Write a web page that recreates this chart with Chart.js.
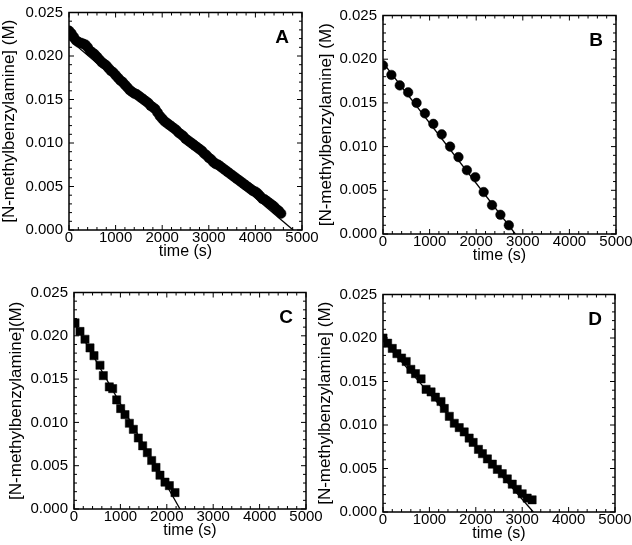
<!DOCTYPE html>
<html>
<head>
<meta charset="utf-8">
<script src="https://cdn.jsdelivr.net/npm/chart.js@4"></script>
<style>
  body { margin: 0; background: #fff; }
  #page { position: relative; width: 632px; height: 545px; overflow: hidden; background: #fff; }
  canvas { position: absolute; }
</style>
</head>
<body>
<div id="page">
  <canvas id="chartA"></canvas>
  <canvas id="chartB"></canvas>
  <canvas id="chartC"></canvas>
  <canvas id="chartD"></canvas>
</div>
<script>
/* ---------- data ---------- */
const xTicks = [0, 1000, 2000, 3000, 4000, 5000];
const yTicks = [0.000, 0.005, 0.010, 0.015, 0.020, 0.025];

const timeA = [0, 50, 100, 150, 200, 250, 300, 350, 400, 450, 500, 550, 600, 650, 700, 750, 800, 850, 900, 950,
  1000, 1050, 1100, 1150, 1200, 1250, 1300, 1350, 1400, 1450, 1500, 1550, 1600, 1650, 1700, 1750, 1800, 1850, 1900, 1950,
  2000, 2050, 2100, 2150, 2200, 2250, 2300, 2350, 2400, 2450, 2500, 2550, 2600, 2650, 2700, 2750, 2800, 2850, 2900, 2950,
  3000, 3050, 3100, 3150, 3200, 3250, 3300, 3350, 3400, 3450, 3500, 3550, 3600, 3650, 3700, 3750, 3800, 3850, 3900, 3950,
  4000, 4050, 4100, 4150, 4200, 4250, 4300, 4350, 4400, 4450, 4500, 4550];
const concA = [0.0229, 0.0226, 0.0222, 0.0218, 0.0216, 0.0215, 0.0214, 0.0213, 0.0210, 0.0206, 0.0204, 0.0202, 0.0199, 0.0196, 0.0193, 0.0191, 0.0189, 0.0186, 0.0183, 0.0181,
  0.0178, 0.0175, 0.0172, 0.0170, 0.0167, 0.0164, 0.0161, 0.0159, 0.0157, 0.0156, 0.0154, 0.0152, 0.0150, 0.0148, 0.0146, 0.0143, 0.0141, 0.0139, 0.0135, 0.0131,
  0.0128, 0.0125, 0.0123, 0.0121, 0.0119, 0.0117, 0.0115, 0.0112, 0.0110, 0.0108, 0.0105, 0.0103, 0.0101, 0.0099, 0.0097, 0.0095, 0.0093, 0.0091, 0.0088, 0.0086,
  0.0083, 0.0081, 0.0078, 0.0076, 0.0075, 0.0073, 0.0071, 0.0069, 0.0067, 0.0065, 0.0063, 0.0061, 0.0059, 0.0057, 0.0055, 0.0053, 0.0051, 0.0049, 0.0047, 0.0045,
  0.0044, 0.0042, 0.0039, 0.0036, 0.0035, 0.0033, 0.0031, 0.0029, 0.0027, 0.0024, 0.0022, 0.0019];
const fitTimeA = [0, 4810];
const fitConcA = [0.0219, 0.0];

const timeB = [0, 180, 360, 540, 720, 900, 1080, 1260, 1440, 1620, 1800, 1980, 2160, 2340, 2520, 2700];
const concB = [0.0193, 0.0182, 0.0170, 0.0162, 0.0150, 0.0138, 0.0126, 0.0114, 0.0100, 0.0088, 0.0073, 0.0065, 0.0048, 0.0033, 0.0022, 0.0010];
const fitTimeB = [0, 2840];
const fitConcB = [0.0196, 0.0];

const timeC = [22, 129, 237, 345, 431, 560, 632, 761, 833, 920, 1006, 1099, 1193, 1279, 1386, 1480, 1580, 1674, 1767, 1853, 1961, 2055, 2177];
const concC = [0.0215, 0.0205, 0.0196, 0.0186, 0.0177, 0.0166, 0.0154, 0.0141, 0.0139, 0.0126, 0.0116, 0.0109, 0.0099, 0.0092, 0.0082, 0.0073, 0.0065, 0.0056, 0.0048, 0.0039, 0.0031, 0.0027, 0.0019];
const fitTimeC = [0, 2285];
const fitConcC = [0.0216, 0.0];

const timeD = [0, 100, 200, 300, 400, 500, 600, 700, 821, 929, 1036, 1129, 1250, 1321, 1429, 1536, 1643, 1750, 1857, 1943,
  2057, 2143, 2250, 2357, 2464, 2571, 2679, 2786, 2893, 3000, 3107, 3214];
const concD = [0.0200, 0.0194, 0.0188, 0.0182, 0.0177, 0.0173, 0.0164, 0.0159, 0.0153, 0.0141, 0.0138, 0.0132, 0.0127, 0.0119, 0.0110, 0.0102, 0.0097, 0.0092, 0.0085, 0.0080,
  0.0072, 0.0067, 0.0061, 0.0055, 0.0049, 0.0044, 0.0038, 0.0032, 0.0026, 0.0021, 0.0016, 0.0014];
const fitTimeD = [0, 3240];
const fitConcD = [0.0197, 0.0];

/* ---------- layout of the four panels (plot-area edges in page pixels) ---------- */
const panels = [
  { canvas: "chartA", letter: "A", L: 69,  R: 302, T: 9,   B: 230, titleOff: 60, yTitle: "[N-methylbenzylamine] (M)",
    t: timeA, c: concA, ft: fitTimeA, fc: fitConcA, style: "circle", r: 5 },
  { canvas: "chartB", letter: "B", L: 383, R: 616, T: 12,  B: 234, titleOff: 57, yTitle: "[N-methylbenzylamine] (M)",
    t: timeB, c: concB, ft: fitTimeB, fc: fitConcB, style: "circle", r: 4.8 },
  { canvas: "chartC", letter: "C", L: 74,  R: 306, T: 289, B: 509, titleOff: 58, yTitle: "[N-methylbenzylamine](M)",
    t: timeC, c: concC, ft: fitTimeC, fc: fitConcC, style: "rect", r: 5.8 },
  { canvas: "chartD", letter: "D", L: 383, R: 615, T: 291, B: 512, titleOff: 58, yTitle: "[N-methylbenzylamine] (M)",
    t: timeD, c: concD, ft: fitTimeD, fc: fitConcD, style: "rect", r: 5.8 }
];

const Y_AXIS_W = 70;
const X_AXIS_H = 44;
const PAD_TOP = 10;
const PAD_RIGHT = 40;

Chart.defaults.font.family = '"Liberation Sans", Arial, Helvetica, sans-serif';
Chart.defaults.font.size = 15;
Chart.defaults.color = "#000";

/* frame + inward ticks on all four sides + panel letter */
const frameTicks = {
    id: "frameTicks",
    afterDraw(chart, args, opts) {
        const { ctx, chartArea: a, scales: { x, y } } = chart;
        ctx.save();
        ctx.strokeStyle = "#000";
        ctx.lineWidth = 1;
        const seg = (x1, y1, x2, y2) => {
            ctx.beginPath();
            ctx.moveTo(x1, y1);
            ctx.lineTo(x2, y2);
            ctx.stroke();
        };
        for (let i = 0; i <= 25; i++) {
            const px = x.getPixelForValue(i * 200);
            const len = i % 5 === 0 ? 5 : 3;
            seg(px, a.bottom, px, a.bottom - len);
            seg(px, a.top, px, a.top + len);
        }
        for (let i = 0; i <= 25; i++) {
            const py = y.getPixelForValue(i * 0.001);
            const len = i % 5 === 0 ? 5 : 3;
            seg(a.left, py, a.left + len, py);
            seg(a.right, py, a.right - len, py);
        }
        ctx.lineWidth = 1.5;
        ctx.strokeRect(a.left, a.top, a.right - a.left, a.bottom - a.top);

        ctx.fillStyle = "#000";
        ctx.font = 'bold 19px "Liberation Sans", Arial, sans-serif';
        ctx.textAlign = "center";
        ctx.textBaseline = "middle";
        ctx.fillText(opts.letter, a.right - 20, a.top + 25);
        ctx.restore();
    }
};

panels.forEach(p => {
    const cv = document.getElementById(p.canvas);
    const left = p.L - Y_AXIS_W;
    const top = p.T - PAD_TOP;
    cv.width = p.R - left + PAD_RIGHT;
    cv.height = p.B - top + X_AXIS_H;
    cv.style.left = left + "px";
    cv.style.top = top + "px";

    const points = p.t.map((v, i) => ({ x: v, y: p.c[i] }));
    const fit = p.ft.map((v, i) => ({ x: v, y: p.fc[i] }));

    new Chart(cv, {
        type: "scatter",
        data: {
            datasets: [
                {
                    data: fit,
                    showLine: true,
                    borderColor: "#000",
                    borderWidth: 1.3,
                    pointRadius: 0
                },
                {
                    data: points,
                    pointStyle: p.style,
                    pointRadius: p.r,
                    pointBackgroundColor: "#000",
                    pointBorderColor: "#000",
                    pointBorderWidth: 0.5
                }
            ]
        },
        options: {
            responsive: false,
            animation: false,
            layout: { padding: { top: PAD_TOP, right: PAD_RIGHT, left: 0, bottom: 0 } },
            plugins: {
                legend: { display: false },
                tooltip: { enabled: false },
                frameTicks: { letter: p.letter }
            },
            scales: {
                x: {
                    type: "linear",
                    min: xTicks[0],
                    max: xTicks[xTicks.length - 1],
                    afterBuildTicks: s => { s.ticks = xTicks.map(v => ({ value: v })); },
                    afterFit: s => { s.height = X_AXIS_H; },
                    grid: { display: false, drawTicks: false },
                    border: { display: false },
                    ticks: { padding: 0, maxRotation: 0, autoSkip: false, font: { lineHeight: 1 }, callback: v => String(v) },
                    title: { display: true, text: "time (s)", font: { size: 16, lineHeight: 1.2 }, padding: { top: 0, bottom: 13 } }
                },
                y: {
                    type: "linear",
                    min: yTicks[0],
                    max: yTicks[yTicks.length - 1],
                    afterBuildTicks: s => { s.ticks = yTicks.map(v => ({ value: v })); },
                    afterFit: s => { s.width = Y_AXIS_W; },
                    grid: { display: false, drawTicks: false },
                    border: { display: false },
                    ticks: { padding: 6, autoSkip: false, font: { lineHeight: 1 }, callback: v => Number(v).toFixed(3) },
                    title: { display: true, text: p.yTitle, font: { size: 17, lineHeight: 1.2 }, padding: { top: Y_AXIS_W - p.titleOff - 10, bottom: 0 } }
                }
            }
        },
        plugins: [frameTicks]
    });
});
</script>
</body>
</html>
